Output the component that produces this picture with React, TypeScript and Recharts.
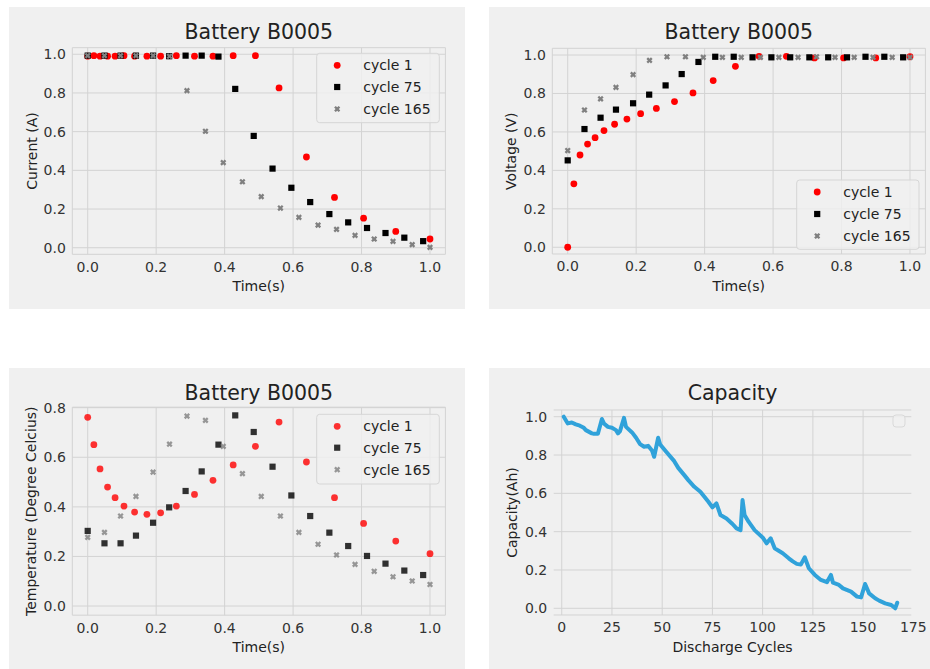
import React from 'react';
import { ScatterChart, Scatter, LineChart, Line, XAxis, YAxis, CartesianGrid } from 'recharts';

// ---------------- data ----------------
const time1 = [0, 0.018, 0.036, 0.058, 0.08, 0.106, 0.137, 0.173, 0.213, 0.259, 0.312, 0.366, 0.425, 0.49, 0.559, 0.639, 0.721, 0.806, 0.9, 1.0];
const time75 = [0, 0.049, 0.096, 0.141, 0.191, 0.238, 0.286, 0.333, 0.382, 0.431, 0.485, 0.54, 0.595, 0.65, 0.706, 0.761, 0.816, 0.87, 0.925, 0.98];
const time165 = [0, 0.049, 0.096, 0.141, 0.191, 0.239, 0.29, 0.344, 0.396, 0.452, 0.507, 0.563, 0.617, 0.673, 0.727, 0.781, 0.837, 0.892, 0.948, 1.0];

const current1 = [0.99, 0.993, 0.99, 0.99, 0.99, 0.993, 0.99, 0.99, 0.99, 0.993, 0.99, 0.99, 0.993, 0.993, 0.826, 0.469, 0.26, 0.153, 0.084, 0.045];
const current75 = [0.993, 0.993, 0.993, 0.993, 0.993, 0.99, 0.993, 0.993, 0.988, 0.821, 0.578, 0.409, 0.31, 0.236, 0.174, 0.131, 0.102, 0.076, 0.052, 0.034];
const current165 = [0.993, 0.993, 0.993, 0.993, 0.993, 0.99, 0.812, 0.602, 0.44, 0.341, 0.264, 0.205, 0.157, 0.117, 0.095, 0.064, 0.045, 0.033, 0.016, 0.002];

const voltage1 = [0.0, 0.33, 0.48, 0.537, 0.57, 0.607, 0.64, 0.667, 0.695, 0.722, 0.758, 0.803, 0.867, 0.941, 0.993, 0.993, 0.985, 0.985, 0.985, 0.991];
const voltage75 = [0.452, 0.615, 0.674, 0.716, 0.749, 0.794, 0.842, 0.901, 0.964, 0.991, 0.991, 0.988, 0.988, 0.988, 0.988, 0.988, 0.988, 0.991, 0.991, 0.988];
const voltage165 = [0.503, 0.714, 0.772, 0.832, 0.898, 0.972, 0.991, 0.991, 0.988, 0.988, 0.988, 0.988, 0.988, 0.988, 0.991, 0.988, 0.988, 0.988, 0.988, 0.988];

const temp1 = [0.761, 0.651, 0.553, 0.48, 0.437, 0.403, 0.379, 0.37, 0.376, 0.403, 0.45, 0.507, 0.569, 0.644, 0.742, 0.581, 0.437, 0.333, 0.262, 0.211];
const temp75 = [0.303, 0.253, 0.253, 0.284, 0.336, 0.398, 0.464, 0.543, 0.651, 0.769, 0.702, 0.562, 0.446, 0.363, 0.296, 0.242, 0.202, 0.171, 0.143, 0.125];
const temp165 = [0.277, 0.297, 0.363, 0.442, 0.54, 0.653, 0.766, 0.749, 0.644, 0.534, 0.442, 0.363, 0.297, 0.249, 0.206, 0.168, 0.14, 0.118, 0.101, 0.087];

const capCycles = [1, 3, 5, 7, 9, 11, 12, 15, 16, 18, 20, 21, 23, 25, 27, 28, 29, 31, 32, 35, 37, 39, 41, 43, 45, 46, 48, 49, 52, 56, 58, 61, 63, 66, 69, 71, 73, 75, 77, 79, 82, 85, 87, 89, 90, 91, 93, 96, 100, 102, 104, 106, 108, 110, 113, 115, 117, 119, 121, 123, 126, 129, 132, 134, 135, 138, 140, 144, 147, 149, 151, 153, 156, 158, 161, 164, 166, 167];
const capValues = [1.0, 0.965, 0.97, 0.96, 0.953, 0.942, 0.93, 0.913, 0.911, 0.911, 0.988, 0.965, 0.947, 0.942, 0.93, 0.913, 0.925, 0.994, 0.947, 0.918, 0.89, 0.857, 0.843, 0.848, 0.822, 0.791, 0.89, 0.855, 0.817, 0.768, 0.733, 0.695, 0.669, 0.634, 0.608, 0.582, 0.556, 0.527, 0.548, 0.487, 0.469, 0.44, 0.417, 0.408, 0.565, 0.487, 0.452, 0.408, 0.37, 0.339, 0.365, 0.313, 0.3, 0.287, 0.261, 0.245, 0.232, 0.228, 0.266, 0.209, 0.174, 0.148, 0.136, 0.174, 0.134, 0.122, 0.104, 0.087, 0.061, 0.057, 0.127, 0.078, 0.052, 0.04, 0.026, 0.017, 0.0, 0.029];

const seriesNames = ['cycle 1', 'cycle 75', 'cycle 165'];
const seriesColors = ['#ff0000', '#000000', '#808080'];
const seriesShapes = ['circle', 'square', 'x'];

const timeTicks = [0, 0.2, 0.4, 0.6, 0.8, 1.0];
const unitTicks = [0, 0.2, 0.4, 0.6, 0.8, 1.0];
const tempTicks = [0, 0.2, 0.4, 0.6, 0.8];
const cycleTicks = [0, 25, 50, 75, 100, 125, 150, 175];
const cycleGrid = [0, 25, 50, 75, 100, 125, 150];

// ---------------- style ----------------
const FONT = '"DejaVu Sans", Verdana, sans-serif';
const BG = '#f0f0f0';
const GRID = '#d3d3d3';
const TICK = { fontSize: 14, fill: '#333333', fontFamily: FONT };

function Marker({ shape, cx, cy, color, opacity }: any) {
  if (shape === 'circle') return <circle cx={cx} cy={cy} r={3.4} fill={color} fillOpacity={opacity} />;
  if (shape === 'square') return <rect x={cx - 3.1} y={cy - 3.1} width={6.2} height={6.2} fill={color} fillOpacity={opacity} />;
  const a = 3.2, w = 1.15;
  const pts = [[w, -a], [w, -w], [a, -w], [a, w], [w, w], [w, a], [-w, a], [-w, w], [-a, w], [-a, -w], [-w, -w], [-w, -a]]
    .map((p) => p.join(',')).join(' ');
  return <polygon points={pts} transform={`translate(${cx},${cy}) rotate(45)`} fill={color} fillOpacity={opacity} />;
}

function LegendBox({ x, y, w, h, rows, opacity }: any) {
  return (
    <g>
      <rect x={x} y={y} width={w} height={h} rx={3} fill={BG} fillOpacity={0.8} stroke="#d6d6d6" strokeWidth={1} />
      {rows.map((r: any, i: number) => (
        <g key={i}>
          <Marker shape={seriesShapes[i]} cx={x + 20.5} cy={r} color={seriesColors[i]} opacity={opacity} />
          <text x={x + 46.5} y={r + 5} fontSize={14} fill="#222" fontFamily={FONT}>{seriesNames[i]}</text>
        </g>
      ))}
    </g>
  );
}

function TimePanel({ panel, plot, title, yLabel, ys, yDomain, yTicks, legend, opacity }: any) {
  const W = panel.w, H = panel.h;
  const yAxisW = plot.x0 - panel.x;
  const top = plot.y0 - panel.y;
  const right = panel.x + W - plot.x1;
  const bottom = panel.y + H - plot.y1;
  const cxMid = (yAxisW + (W - right)) / 2;
  const cyMid = (top + (H - bottom)) / 2;
  const times = [time1, time75, time165];
  const series = ys.map((arr: number[], i: number) => times[i].map((t, j) => ({ x: t, y: arr[j] })));
  return (
    <div style={{ position: 'absolute', left: panel.x, top: panel.y, width: W, height: H, background: BG }}>
      <ScatterChart width={W} height={H} margin={{ top, right, bottom: 0, left: 0 }}>
        <CartesianGrid stroke={GRID} strokeWidth={1} />
        <XAxis type="number" dataKey="x" domain={[-0.045, 1.045]} ticks={timeTicks} allowDataOverflow
          axisLine={false} tickLine={false} tickSize={0} tickMargin={7.5} height={bottom}
          tick={TICK} tickFormatter={(v: number) => v.toFixed(1)} />
        <YAxis type="number" dataKey="y" domain={yDomain} ticks={yTicks} allowDataOverflow
          axisLine={false} tickLine={false} tickSize={0} tickMargin={6.5} width={yAxisW}
          tick={TICK} tickFormatter={(v: number) => v.toFixed(1)} />
        {series.map((d: any, i: number) => (
          <Scatter key={i} name={seriesNames[i]} data={d} isAnimationActive={false}
            shape={(p: any) => <Marker shape={seriesShapes[i]} cx={p.cx} cy={p.cy} color={seriesColors[i]} opacity={opacity} />} />
        ))}
        <LegendBox {...legend} opacity={opacity} />
        <text x={cxMid} y={32.3} textAnchor="middle" fontSize={20.5} fill="#222" fontFamily={FONT}>{title}</text>
        <text x={cxMid} y={284} textAnchor="middle" fontSize={14} fill="#222" fontFamily={FONT}>Time(s)</text>
        <text x={27.5} y={cyMid} transform={`rotate(-90 27.5 ${cyMid})`} textAnchor="middle" fontSize={14} fill="#222" fontFamily={FONT}>{yLabel}</text>
      </ScatterChart>
    </div>
  );
}

function CapacityPanel() {
  const panel = { x: 489, y: 368, w: 441, h: 301 };
  const plot = { x0: 553.7, x1: 911.3, y0: 410, y1: 615 };
  const W = panel.w, H = panel.h;
  const yAxisW = plot.x0 - panel.x;
  const top = plot.y0 - panel.y;
  const right = panel.x + W - plot.x1;
  const bottom = panel.y + H - plot.y1;
  const cxMid = (yAxisW + (W - right)) / 2;
  const cyMid = (top + (H - bottom)) / 2;
  const data = capCycles.map((c, i) => ({ cycle: c, cap: capValues[i] }));
  return (
    <div style={{ position: 'absolute', left: panel.x, top: panel.y, width: W, height: H, background: BG }}>
      <LineChart width={W} height={H} data={data} margin={{ top, right, bottom: 0, left: 0 }}>
        <CartesianGrid stroke={GRID} strokeWidth={1} verticalValues={cycleGrid} />
        <XAxis type="number" dataKey="cycle" domain={[-4, 174]} ticks={cycleTicks} allowDataOverflow
          axisLine={false} tickLine={false} tickSize={0} tickMargin={7.5} height={bottom} tick={TICK} />
        <YAxis type="number" domain={[-0.035, 1.035]} ticks={unitTicks} allowDataOverflow
          axisLine={false} tickLine={false} tickSize={0} tickMargin={6.5} width={yAxisW}
          tick={TICK} tickFormatter={(v: number) => v.toFixed(1)} />
        <Line type="linear" dataKey="cap" stroke="#30a2da" strokeWidth={4} dot={false}
          strokeLinejoin="round" strokeLinecap="round" isAnimationActive={false} />
        <rect x={404} y={47} width={12} height={12} rx={3} fill={BG} fillOpacity={0.8} stroke="#d9d9d9" strokeWidth={1} />
        <text x={cxMid} y={32} textAnchor="middle" fontSize={20.5} fill="#222" fontFamily={FONT}>Capacity</text>
        <text x={cxMid} y={283.7} textAnchor="middle" fontSize={14} fill="#222" fontFamily={FONT}>Discharge Cycles</text>
        <text x={27.5} y={cyMid} transform={`rotate(-90 27.5 ${cyMid})`} textAnchor="middle" fontSize={14} fill="#222" fontFamily={FONT}>Capacity(Ah)</text>
      </LineChart>
    </div>
  );
}

export default function App() {
  return (
    <div style={{ position: 'absolute', left: 0, top: 0, width: 930, height: 669, background: '#ffffff', overflow: 'hidden', fontFamily: FONT }}>
      <TimePanel
        panel={{ x: 9, y: 7, w: 456, h: 302 }}
        plot={{ x0: 72.3, x1: 445.4, y0: 47.7, y1: 254.3 }}
        title="Battery B0005" yLabel="Current (A)"
        ys={[current1, current75, current165]}
        yDomain={[-0.034, 1.034]} yTicks={unitTicks}
        legend={{ x: 307.7, y: 46.3, w: 122.6, h: 69.4, rows: [58.3, 80, 102] }}
        opacity={1} />
      <TimePanel
        panel={{ x: 489, y: 7, w: 441, h: 302 }}
        plot={{ x0: 552.3, x1: 925.4, y0: 48.3, y1: 254 }}
        title="Battery B0005" yLabel="Voltage (V)"
        ys={[voltage1, voltage75, voltage165]}
        yDomain={[-0.035, 1.035]} yTicks={unitTicks}
        legend={{ x: 307.7, y: 173, w: 122.3, h: 69.3, rows: [185, 207, 229] }}
        opacity={1} />
      <TimePanel
        panel={{ x: 9, y: 368, w: 456, h: 301 }}
        plot={{ x0: 72.3, x1: 445.4, y0: 407.2, y1: 615.2 }}
        title="Battery B0005" yLabel="Temperature (Degree Celcius)"
        ys={[temp1, temp75, temp165]}
        yDomain={[-0.037, 0.802]} yTicks={tempTicks}
        legend={{ x: 307.7, y: 46.3, w: 122.6, h: 69.7, rows: [58.3, 79.7, 101.7] }}
        opacity={0.8} />
      <CapacityPanel />
    </div>
  );
}
